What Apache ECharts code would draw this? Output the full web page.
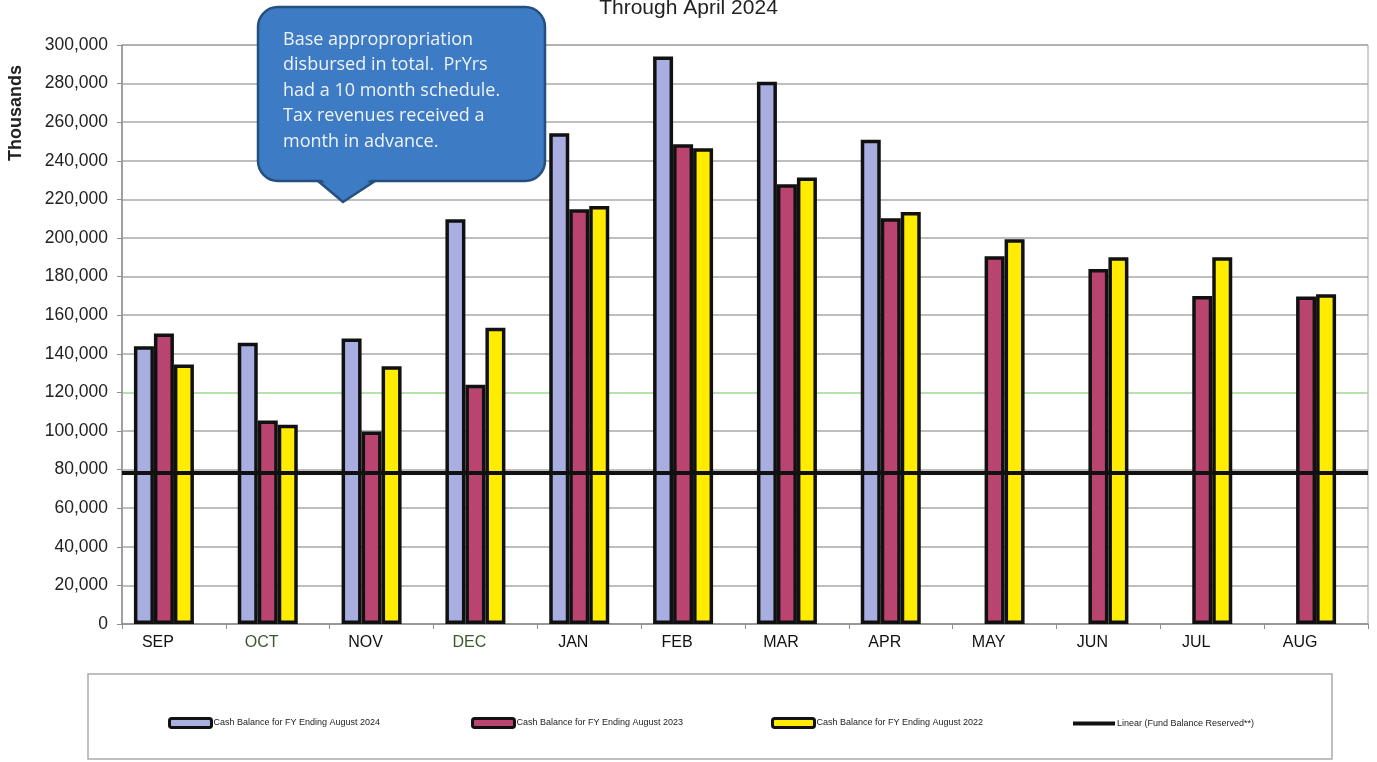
<!DOCTYPE html>
<html>
<head>
<meta charset="utf-8">
<script src="https://cdn.jsdelivr.net/npm/echarts@6/dist/echarts.min.js"></script>
<style>
html,body{margin:0;padding:0;background:#fff;}
#chart{width:1377px;height:762px;}
</style>
</head>
<body>
<div id="chart"></div>
<script>
// ---- data ----
var months = ['SEP','OCT','NOV','DEC','JAN','FEB','MAR','APR','MAY','JUN','JUL','AUG'];
var fy2024 = [143900, 145700, 147900, 209700, 254300, 294100, 281000, 250900, null, null, null, null];
var fy2023 = [150500, 105400, 99800, 124000, 214900, 248600, 227900, 210200, 190500, 184000, 170000, 169700];
var fy2022 = [134400, 103300, 133500, 153500, 216600, 246500, 231300, 213500, 199300, 190000, 190000, 170800];
var fundBalanceReserved = 78300;
var yTicks = {min: 0, max: 300000, interval: 20000};
var seriesNames = ['Cash Balance for FY Ending August 2024','Cash Balance for FY Ending August 2023','Cash Balance for FY Ending August 2022','Linear (Fund Balance Reserved**)'];
var calloutLines = ['Base appropropriation','disbursed in total.  PrYrs','had a 10 month schedule.','Tax revenues received a','month in advance.'];

var greenLabels = {'OCT':1,'DEC':1};
var catData = months.map(function(m){
  return greenLabels[m] ? {value:m, textStyle:{color:'#3b5a2c'}} : m;
});
var splitColors = [];
for (var i=0;i<=15;i++) splitColors.push(i===6 ? '#9fd98f' : '#a8a8a8');

var chart = echarts.init(document.getElementById('chart'));
var barStyle = function(c){ return {color:c, borderColor:'#111', borderWidth:3.5}; };
var calloutFill = '#3d7bc4', calloutStroke = '#254f7e';
var legendLefts = [163, 466, 766, 1068];
var legends = seriesNames.map(function(n, k){
  var isLine = k === 3;
  return {
    data:[n], left:legendLefts[k], top: isLine ? 714 : 712,
    itemWidth: isLine ? 42 : 42, itemHeight: isLine ? 4 : 9, itemGap:0,
    icon: isLine ? 'rect' : 'roundRect',
    itemStyle: isLine ? {color:'#111'} : {borderColor:'#111', borderWidth:3},
    textStyle:{fontFamily:'Liberation Sans, Arial', fontSize:9, color:'#222', padding:[0,0,0,-3]}
  };
});

chart.setOption({
  animation:false,
  title:{text:'Through April 2024', left:'center', top:-7,
    textStyle:{fontFamily:'Liberation Sans, Arial', fontSize:21, fontWeight:'normal', color:'#222'}},
  grid:{left:122, right:9, top:45, bottom:138, show:true, borderColor:'#a0a0a0', borderWidth:1},
  legend:legends,
  xAxis:{
    type:'category', data:catData,
    axisLine:{lineStyle:{color:'#909090', width:1.5}},
    axisTick:{show:true, length:5, lineStyle:{color:'#909090'}},
    axisLabel:{fontFamily:'Liberation Sans, Arial', fontSize:16, color:'#111', margin:11, padding:[0,32,0,0]}
  },
  yAxis:{
    type:'value', min:yTicks.min, max:yTicks.max, interval:yTicks.interval,
    axisLine:{show:true, lineStyle:{color:'#909090', width:1.5}},
    axisTick:{show:true, length:5, lineStyle:{color:'#909090'}},
    axisLabel:{fontFamily:'Liberation Sans, Arial', fontSize:17.5, color:'#222', margin:14,
      formatter:function(v){ return v.toLocaleString('en-US'); }},
    splitLine:{show:true, lineStyle:{color:splitColors, width:1.5}}
  },
  series:[
    {name:seriesNames[0], type:'bar', data:fy2024, barWidth:20, barGap:'0%', itemStyle:barStyle('#a9aee0')},
    {name:seriesNames[1], type:'bar', data:fy2023, barWidth:20, barGap:'0%', itemStyle:barStyle('#b8446f')},
    {name:seriesNames[2], type:'bar', data:fy2022, barWidth:20, barGap:'0%', itemStyle:barStyle('#ffec00')},
    {name:'spacer', type:'bar', data:months.map(function(){return null;}), barWidth:20, barGap:'0%', silent:true,
      itemStyle:{color:'rgba(0,0,0,0)'}},
    {name:seriesNames[3], type:'line', data:[], symbol:'none', lineStyle:{color:'#111', width:4},
      itemStyle:{color:'#111'},
      markLine:{silent:true, symbol:'none', label:{show:false},
        lineStyle:{color:'#111', width:4, type:'solid'},
        data:[{yAxis:fundBalanceReserved}]}}
  ],
  graphic:[
    {type:'text', x:7, y:161, rotation:Math.PI/2,
      style:{text:'Thousands', font:'bold 18px "Liberation Sans", Arial', fill:'#222'}},
    {type:'rect', shape:{x:88, y:674, width:1244, height:85}, style:{fill:'none', stroke:'#ababab', lineWidth:1.5}, z:-1},
    {type:'polygon', shape:{points:[[318,181],[343,202],[375,181]]},
      style:{fill:calloutFill, stroke:calloutStroke, lineWidth:2.5}, z:100},
    {type:'rect', shape:{x:258, y:7, width:287, height:174, r:20},
      style:{fill:calloutFill, stroke:calloutStroke, lineWidth:2.5}, z:101},
    {type:'polygon', shape:{points:[[320,178],[373,178],[343,199.5]]},
      style:{fill:calloutFill}, z:102},
    {type:'text', x:283, y:27, z:103,
      style:{text:calloutLines.join('\n'), font:'18px "Open Sans", "Noto Sans"', fill:'#eef3fa', lineHeight:25.5}}
  ]
});
</script>
</body>
</html>
